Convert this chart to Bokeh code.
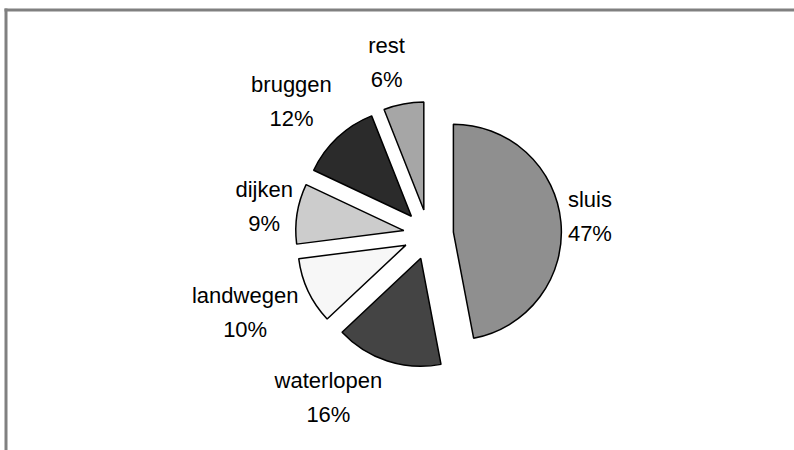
import math
from bokeh.plotting import figure
from bokeh.models import Range1d, ColumnDataSource
from bokeh.core.properties import value
from bokeh.embed import file_html
from bokeh.resources import INLINE

# ---- data ----
categories = ["sluis", "waterlopen", "landwegen", "dijken", "bruggen", "rest"]
shares = [47, 16, 10, 9, 12, 6]
colors = ["#8f8f8f", "#444444", "#f7f7f7", "#cccccc", "#2b2b2b", "#a6a6a6"]

# ---- layout (pixels) ----
W, H = 794, 450
CX, CY = 428, H - 234    # pie centre in plot units (1 unit = 1 px)
R = 108                  # pie radius
EXPLODE = 25             # distance each slice is pulled out
# label offset from the outer mid-point of each slice (dx right, dy up)
label_offsets = [(29, 5), (-59, -37), (-63, -21), (-33, 7), (-46, 36), (-17, 41)]

total = float(sum(shares))
xs, ys, starts, ends, lx, ly, ltxt = [], [], [], [], [], [], []
cum = 0.0
for cat, s, off in zip(categories, shares, label_offsets):
    t0 = cum / total * 2 * math.pi
    cum += s
    t1 = cum / total * 2 * math.pi
    mid = (t0 + t1) / 2
    ux, uy = math.sin(mid), math.cos(mid)
    xs.append(CX + EXPLODE * ux)
    ys.append(CY + EXPLODE * uy)
    starts.append(math.pi / 2 - t1)
    ends.append(math.pi / 2 - t0)
    ax = CX + (EXPLODE + R) * ux
    ay = CY + (EXPLODE + R) * uy
    lx.append(ax + off[0])
    ly.append(ay + off[1])
    ltxt.append(f"{cat}\n{int(round(s / total * 100))}%")

src = ColumnDataSource(dict(x=xs, y=ys, start=starts, end=ends, color=colors))
lsrc = ColumnDataSource(dict(x=lx, y=ly, text=ltxt))

p = figure(width=W, height=H, output_backend="svg", toolbar_location=None,
           x_range=Range1d(0, W), y_range=Range1d(0, H), min_border=0)
p.axis.visible = False
p.grid.visible = False
p.outline_line_color = None
p.background_fill_color = "white"
p.border_fill_color = "white"

# frame border (top and left visible)
p.segment(x0=[4, 5.5], y0=[H - 9.5, 0], x1=[W, 5.5], y1=[H - 9.5, H - 8],
          line_color="#808080", line_width=3)

p.wedge(x="x", y="y", radius=R, start_angle="start", end_angle="end",
        direction="anticlock", fill_color="color", line_color="black",
        line_width=1.5, source=src)

p.text(x="x", y="y", text="text", source=lsrc, text_align="center",
       text_baseline="middle", text_font=value("Liberation Sans"),
       text_font_size="22px", text_line_height=1.36, text_color="black")

open("out.html", "w").write(file_html(p, INLINE))
